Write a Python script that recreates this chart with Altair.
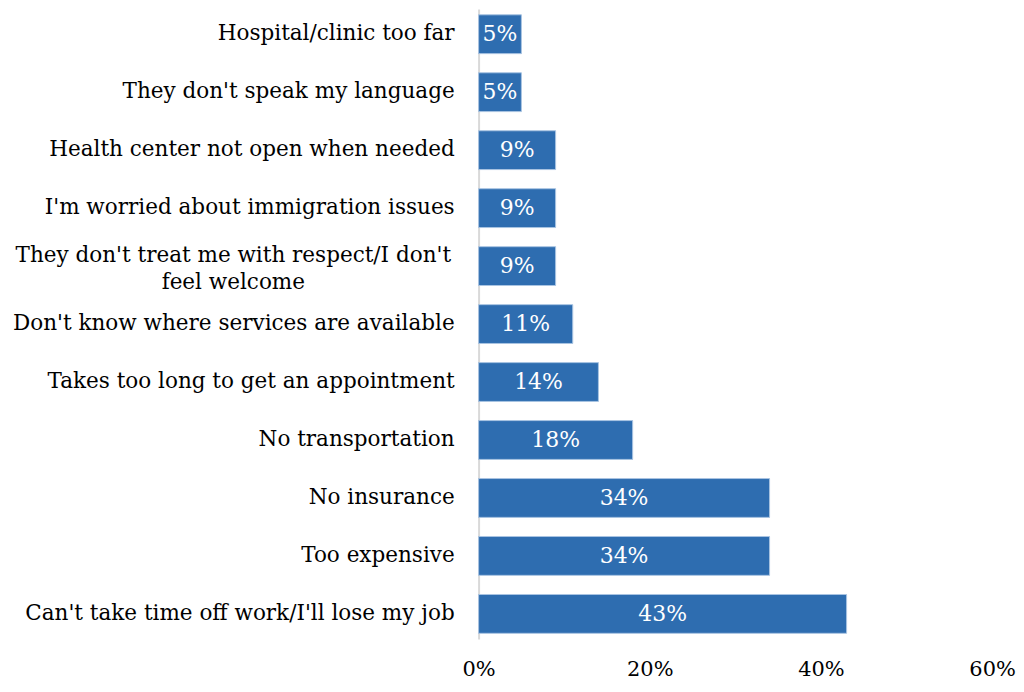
import altair as alt
import pandas as pd

categories = [
    "Hospital/clinic too far",
    "They don't speak my language",
    "Health center not open when needed",
    "I'm worried about immigration issues",
    "They don't treat me with respect/I don't feel welcome",
    "Don't know where services are available",
    "Takes too long to get an appointment",
    "No transportation",
    "No insurance",
    "Too expensive",
    "Can't take time off work/I'll lose my job",
]
display_labels = [
    "Hospital/clinic too far",
    "They don't speak my language",
    "Health center not open when needed",
    "I'm worried about immigration issues",
    "They don't treat me with respect/I don't\nfeel welcome",
    "Don't know where services are available",
    "Takes too long to get an appointment",
    "No transportation",
    "No insurance",
    "Too expensive",
    "Can't take time off work/I'll lose my job",
]
values = [5, 5, 9, 9, 9, 11, 14, 18, 34, 34, 43]
value_labels = ["5%", "5%", "9%", "9%", "9%", "11%", "14%", "18%", "34%", "34%", "43%"]
x_ticks = [0, 20, 40, 60]

df = pd.DataFrame({"cat": categories, "val": values, "lbl": value_labels, "disp": display_labels})
df["wrapped"] = df["disp"].str.contains("\n")

FONT = "DejaVu Serif"
LFS = 21.6

y_enc = alt.Y(
    "cat:N",
    sort=categories,
    scale=alt.Scale(paddingInner=0.33, paddingOuter=0.1),
    axis=alt.Axis(
        title=None,
        ticks=False,
        labels=False,
        domainColor="#d9d9d9",
        domainWidth=2,
    ),
)
x_enc = alt.X(
    "val:Q",
    scale=alt.Scale(domain=[0, 60]),
    axis=alt.Axis(
        title=None,
        values=x_ticks,
        labelExpr="datum.value + '%'",
        labelFlush=False,
        grid=False,
        ticks=False,
        domain=False,
        labelFont=FONT,
        labelFontSize=21,
        labelColor="#000000",
        labelPadding=19,
    ),
)

base = alt.Chart(df).encode(y=y_enc)

bars = base.mark_bar(color="#2E6DB0", stroke="#a9c4e2", strokeWidth=1).encode(x=x_enc)
text = base.transform_calculate(mid="datum.val / 2").mark_text(
    font=FONT, fontSize=22, color="white", baseline="middle"
).encode(x="mid:Q", text="lbl:N")

ylab = base.transform_filter("!datum.wrapped").mark_text(
    font=FONT, fontSize=LFS, color="black", align="right", baseline="middle"
).encode(x=alt.value(-24), text="disp:N")

ylab_wrap = base.transform_filter("datum.wrapped").mark_text(
    font=FONT, fontSize=LFS, color="black", align="center", baseline="middle",
    lineBreak="\n", lineHeight=27, dy=-10
).encode(x=alt.value(-246), text="disp:N")

chart = (
    alt.layer(bars, text, ylab, ylab_wrap)
    .properties(
        width=515, height=632,
        autosize=alt.AutoSizeParams(type="none"),
        padding={"left": 472, "top": 0, "right": 24, "bottom": 42},
        background="white",
    )
    .configure_view(stroke="transparent", strokeWidth=0)
)

chart.save("out.html", embed_options={"renderer": "svg", "actions": False})
